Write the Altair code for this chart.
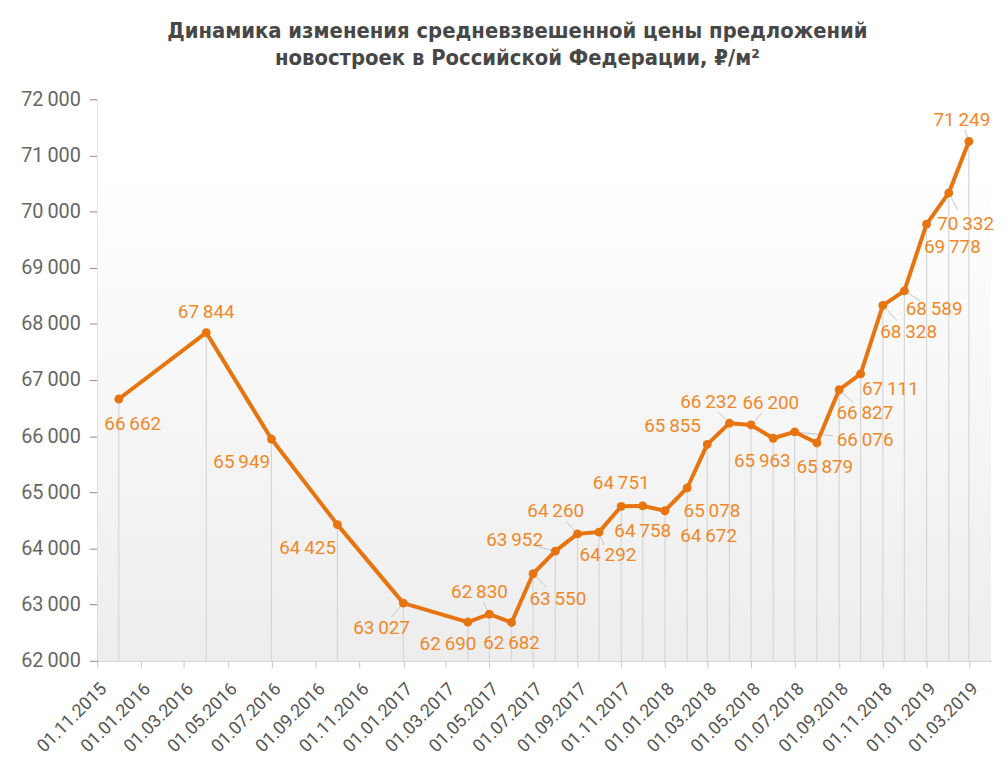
import altair as alt
import pandas as pd

# ---- data ----
dates = ["2015-12-01", "2016-04-01", "2016-07-01", "2016-10-01", "2017-01-01",
         "2017-04-01", "2017-05-01", "2017-06-01", "2017-07-01", "2017-08-01",
         "2017-09-01", "2017-10-01", "2017-11-01", "2017-12-01", "2018-01-01",
         "2018-02-01", "2018-03-01", "2018-04-01", "2018-05-01", "2018-06-01",
         "2018-07-01", "2018-08-01", "2018-09-01", "2018-10-01", "2018-11-01",
         "2018-12-01", "2019-01-01", "2019-02-01", "2019-03-01"]
values = [66662, 67844, 65949, 64425, 63027, 62690, 62830, 62682, 63550, 63952,
          64260, 64292, 64751, 64758, 64672, 65078, 65855, 66232, 66200, 65963,
          66076, 65879, 66827, 67111, 68328, 68589, 69778, 70332, 71249]

# tick label dates (every two months)
tick_years = [2015, 2016, 2016, 2016, 2016, 2016, 2016, 2017, 2017, 2017, 2017, 2017,
              2017, 2018, 2018, 2018, 2018, 2018, 2018, 2019, 2019]
tick_months = [11, 1, 3, 5, 7, 9, 11, 1, 3, 5, 7, 9, 11, 1, 3, 5, 7, 9, 11, 1, 3]
y_ticks = [62000, 63000, 64000, 65000, 66000, 67000, 68000, 69000, 70000, 71000, 72000]

# ---- label placement (layout, pixels relative to each point) ----
label_dx = [14, 0, -30, -30, -22, -20, -10, 0, 25, -41, -22, 9, 0, 0, 44, 25, -35,
            -21, 20, -11, 71, 8, 26, 30, 26, 30, 26, 17, -7]
label_dy = [25, -21, 23, 24, 25, 22, -22, 21, 25, -11, -23, 23, -23, 25, 25, 23, -18,
            -21, -22, 23, 8, 24, 23, 15, 27, 18, 23, 31, -22]
# labels that have a thin leader line to their point
leader_idx = [4, 6, 8, 9, 10, 11, 17, 18, 20, 22, 24, 25, 27, 28]

df = pd.DataFrame({
    "idx": list(range(len(values))),
    "date": [d + "T00:00:00" for d in dates],
    "value": values,
})

W, H = 901, 566
LINE = "#e8740f"
LABEL = "#f0882a"
FONT = "Roboto"

tick_values = [alt.DateTime(year=y, month=m, date=1) for y, m in zip(tick_years, tick_months)]

x_enc = alt.X("date:T",
              scale=alt.Scale(domain=[alt.DateTime(year=2015, month=11, date=1),
                                      alt.DateTime(year=2019, month=4, date=1)]),
              axis=alt.Axis(values=tick_values, labelExpr="timeFormat(datum.value, '%d.%m.%Y')",
                            labelAngle=315, labelFontSize=18, labelColor="#555555",
                            labelFont=FONT, domainColor="#c8c8c8", tickColor="#c8c8c8",
                            tickSize=7, labelPadding=12, grid=False, title=None,
                            labelOverlap=False, labelBound=False, labelFlush=False),
              title=None)
y_enc = alt.Y("value:Q",
              scale=alt.Scale(domain=[62000, 72000], nice=False, zero=False),
              axis=alt.Axis(values=y_ticks,
                            labelExpr="replace(format(datum.value, ','), ',', '\u2009')",
                            labelFontSize=20, labelColor="#666666", labelFont=FONT,
                            domainColor="#8a8a8a", tickColor="#8a8a8a", tickSize=8,
                            labelPadding=9, grid=False, title=None),
              title=None)
x2_enc = alt.X2("date:T")
y2_enc = alt.Y2("value:Q")

bg = alt.Chart(alt.Data(values=[{"a": 1}])).mark_rect(
    color=alt.LinearGradient(
        gradient="linear", x1=0, y1=0, x2=0, y2=1,
        stops=[alt.GradientStop(offset=0, color="#ffffff"),
               alt.GradientStop(offset=0.12, color="#ffffff"),
               alt.GradientStop(offset=1, color="#ededed")])
).encode(x=alt.value(0), x2=alt.value(W), y=alt.value(0), y2=alt.value(H))

base = alt.Chart(df)

drops = base.mark_rule(color="#d6d6d6", strokeWidth=1.2).encode(
    x=x_enc, y=y_enc, y2=alt.datum(62000))

leaders = []
for i in leader_idx:
    leaders.append(
        base.transform_filter(f"datum.idx == {i}").mark_rule(
            color="#c4c4c4", strokeWidth=1,
            x2Offset=round(label_dx[i] * 0.55), y2Offset=round(label_dy[i] * 0.55)
        ).encode(x=x_enc, y=y_enc, x2=x2_enc, y2=y2_enc)
    )

line = base.mark_line(color=LINE, strokeWidth=4, strokeJoin="round").encode(x=x_enc, y=y_enc)
pts = base.mark_circle(color=LINE, size=80, opacity=1).encode(x=x_enc, y=y_enc)

label_layers = []
for i in range(len(values)):
    label_layers.append(
        base.transform_filter(f"datum.idx == {i}").transform_calculate(
            lab="replace(format(datum.value, ','), ',', '\u2009')"
        ).mark_text(color=LABEL, fontSize=19, font=FONT, align="center", baseline="middle",
                    dx=label_dx[i], dy=label_dy[i]).encode(x=x_enc, y=y_enc, text="lab:N")
    )

chart = alt.layer(bg, drops, *leaders, line, pts, *label_layers).properties(
    width=W, height=H,
    title=alt.TitleParams(
        text=["Динамика изменения средневзвешенной цены предложений",
              "новостроек в Российской Федерации, ₽/м²"],
        font="DejaVu Sans Condensed, Roboto", fontSize=22, fontWeight="bold", color="#474747",
        lineHeight=27, anchor="middle", offset=20, dx=-27),
    autosize=alt.AutoSizeParams(type="none"),
    padding={"left": 90, "top": 89, "right": 8, "bottom": 100},
).configure_view(stroke=None)

chart.save("out.html", embed_options={"renderer": "svg", "actions": False})
